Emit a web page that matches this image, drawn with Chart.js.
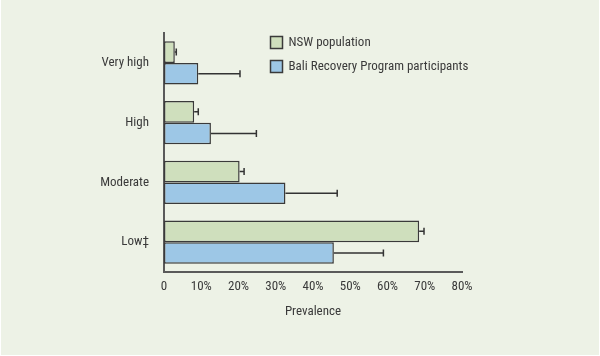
<!DOCTYPE html>
<html>
<head>
<meta charset="utf-8">
<script src="https://cdn.jsdelivr.net/npm/chart.js@4/dist/chart.umd.min.js"></script>
<style>
  html, body { margin: 0; padding: 0; background: #ffffff; }
  #wrap { width: 600px; height: 356px; position: relative; background: #ffffff; }
  #bg { position: absolute; left: 1px; top: 0; width: 598px; height: 355px; background: #EDF2E6; }
  #c { position: absolute; left: 0; top: 0; }
</style>
</head>
<body>
<div id="wrap"><div id="bg"></div><canvas id="c" width="600" height="356"></canvas></div>
<script>
const categories = ['Very high', 'High', 'Moderate', 'Low\u2021'];
const seriesNames = ['NSW population', 'Bali Recovery Program participants'];
const nswValues = [2.9, 8.1, 20.3, 68.5];
const nswUpper = [3.3, 9.2, 21.5, 69.8];
const baliValues = [9.2, 12.6, 32.6, 45.6];
const baliUpper = [20.4, 24.8, 46.5, 58.9];
const xTickValues = [0, 10, 20, 30, 40, 50, 60, 70, 80];

const FONT = "'Roboto Condensed', 'DejaVu Sans Condensed', sans-serif";
const FSIZE = 13;
const TEXT = '#3a3a3a';
const NSW_FILL = '#CFDFBD';
const BALI_FILL = '#9DC7E6';
const EDGE = '#3a3a3a';
const upperSets = [nswUpper, baliUpper];

const errorBars = {
  id: 'errorBars',
  afterDatasetsDraw(chart) {
    const ctx = chart.ctx;
    const xs = chart.scales.x;
    ctx.save();
    ctx.strokeStyle = '#333';
    ctx.lineWidth = 1.5;
    chart.data.datasets.forEach((ds, i) => {
      const meta = chart.getDatasetMeta(i);
      meta.data.forEach((bar, j) => {
        const x0 = bar.x;
        const x1 = xs.getPixelForValue(upperSets[i][j]);
        const y = bar.y;
        ctx.beginPath();
        ctx.moveTo(x0, y);
        ctx.lineTo(x1, y);
        ctx.moveTo(x1, y - 3.5);
        ctx.lineTo(x1, y + 3.5);
        ctx.stroke();
      });
    });
    ctx.restore();
  }
};

const boxLegend = {
  id: 'boxLegend',
  afterDraw(chart) {
    const ctx = chart.ctx;
    const left = chart.chartArea.left + 106.5;
    const top = chart.chartArea.top + 3.5;
    ctx.save();
    ctx.font = FSIZE + 'px ' + FONT;
    ctx.textBaseline = 'middle';
    chart.data.datasets.forEach((ds, i) => {
      const y = top + i * 24;
      ctx.fillStyle = ds.backgroundColor;
      ctx.fillRect(left, y, 12, 12);
      ctx.strokeStyle = EDGE;
      ctx.lineWidth = 1.5;
      ctx.strokeRect(left, y, 12, 12);
      ctx.fillStyle = TEXT;
      ctx.fillText(ds.label, left + 18, y + 6.5);
    });
    ctx.restore();
  }
};

new Chart(document.getElementById('c'), {
  type: 'bar',
  data: {
    labels: categories,
    datasets: [
      { label: seriesNames[0], data: nswValues, backgroundColor: NSW_FILL, borderColor: EDGE, borderWidth: 1.5, borderSkipped: false },
      { label: seriesNames[1], data: baliValues, backgroundColor: BALI_FILL, borderColor: EDGE, borderWidth: 1.5, borderSkipped: false }
    ]
  },
  options: {
    indexAxis: 'y',
    responsive: false,
    animation: false,
    devicePixelRatio: 1,
    layout: { padding: { left: 0, right: 138, top: 33, bottom: 0 } },
    datasets: { bar: { barPercentage: 1.0, categoryPercentage: 0.72 } },
    plugins: { legend: { display: false }, tooltip: { enabled: false } },
    scales: {
      x: {
        min: 0, max: 80,
        afterBuildTicks(scale) { scale.ticks = xTickValues.map(v => ({ value: v })); },
        afterFit(scale) { scale.height = 84; },
        grid: { display: false, drawTicks: false },
        border: { display: true, color: '#5a5a5a', width: 2 },
        ticks: {
          padding: 7,
          color: TEXT,
          font: { family: FONT, size: FSIZE },
          callback: v => v === 0 ? '0' : v + '%'
        },
        title: {
          display: true,
          text: 'Prevalence',
          color: TEXT,
          font: { family: FONT, size: FSIZE },
          padding: { top: 0, bottom: 36 }
        }
      },
      y: {
        afterFit(scale) { scale.width = 164; },
        grid: { display: false, drawTicks: false },
        border: { display: true, color: '#5a5a5a', width: 2 },
        ticks: {
          padding: 15,
          color: TEXT,
          font: { family: FONT, size: FSIZE }
        }
      }
    }
  },
  plugins: [errorBars, boxLegend]
});
</script>
</body>
</html>
